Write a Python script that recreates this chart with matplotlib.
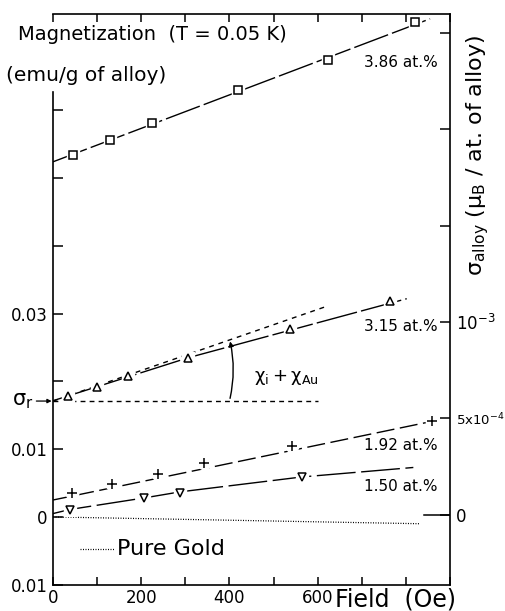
import numpy as np
import matplotlib.pyplot as plt

plt.rcParams['font.family'] = ['DejaVu Sans']
plt.rcParams['mathtext.fontset'] = 'dejavusans'

# field (Oe) and magnetization (emu/g of alloy)
h_386 = [45, 129, 224, 420, 624, 821]
m_386 = [0.0534, 0.0556, 0.0581, 0.0630, 0.0674, 0.0730]
line_386_x = [0, 855]
line_386_y = [0.0524, 0.0735]

h_315 = [33, 99, 171, 307, 537, 763]
m_315 = [0.0179, 0.0192, 0.0208, 0.0235, 0.0278, 0.0318]
line_315_x = [0, 307, 802]
line_315_y = [0.01715, 0.0235, 0.0322]

h_192 = [42, 133, 237, 342, 541, 859]
m_192 = [0.0035, 0.0049, 0.0064, 0.0080, 0.0105, 0.0141]
line_192_x = [0, 859]
line_192_y = [0.0025, 0.0141]

h_150 = [38, 206, 288, 564]
m_150 = [0.0010, 0.0028, 0.0036, 0.0059]
line_150_x = [0, 38, 206, 288, 564, 817]
line_150_y = [0.0005, 0.0011, 0.0028, 0.0037, 0.0059, 0.0073]

gold_x = [0, 832]
gold_y = [0.0, -0.0010]

sigma_r = 0.0171
tangent_x = [0, 617]
tangent_y = [0.0171, 0.0310]
sigma_r_x = [0, 601]

fig = plt.figure(figsize=(5.05, 6.11), dpi=100)
ax = fig.add_axes([0.105, 0.043, 0.786, 0.934])
ax.set_xlim(0, 900)
ax.set_ylim(-0.01, 0.0742)

lw = 1.0
# fitted lines
ax.plot(line_386_x, line_386_y, color='k', lw=lw, ls=(0, (26, 3)))
ax.plot(line_315_x, line_315_y, color='k', lw=lw, ls=(0, (30, 3)))
ax.plot(line_192_x, line_192_y, color='k', lw=lw, ls=(0, (13, 4)))
ax.plot(line_150_x, line_150_y, color='k', lw=lw, ls=(0, (28, 4)))
ax.plot(gold_x, gold_y, color='k', lw=0.9, ls=(0, (0.8, 1.2)))
ax.plot(tangent_x, tangent_y, color='k', lw=lw, ls=(0, (3.5, 3.5)))
ax.plot(sigma_r_x, [sigma_r, sigma_r], color='k', lw=lw, ls=(0, (3.5, 3)))

# markers with a white halo so the lines break around them
for hx, my, mk in [(h_386, m_386, 's'), (h_315, m_315, '^'),
                   (h_192, m_192, '+'), (h_150, m_150, 'v')]:
    ax.plot(hx, my, ls='none', marker='s' if mk != '+' else 'o', ms=9,
            mfc='white', mec='white', zorder=3)
    ax.plot(hx, my, ls='none', marker=mk, ms=6.5 if mk == '+' else 5.5,
            mfc='white', mec='k', mew=1.1, zorder=4)

# chi arc
ax.annotate('', xy=(400, 0.0263), xytext=(400, sigma_r),
            arrowprops=dict(arrowstyle='-|>', color='k', lw=1.0,
                            mutation_scale=7,
                            connectionstyle='arc3,rad=0.12'))
ax.text(530, 0.0206, r'$\mathregular{\chi_i + \chi_{Au}}$', fontsize=13,
        ha='center', va='center')

# series labels
lab_fs = 11
ax.text(872, 0.0671, '3.86 at.%', fontsize=lab_fs, ha='right', va='center')
ax.text(872, 0.0281, '3.15 at.%', fontsize=lab_fs, ha='right', va='center')
ax.text(872, 0.0106, '1.92 at.%', fontsize=lab_fs, ha='right', va='center')
ax.text(872, 0.0045, '1.50 at.%', fontsize=lab_fs, ha='right', va='center')

# pure gold legend
ax.plot([61, 140], [-0.0047, -0.0047], color='k', lw=0.9, ls=(0, (0.8, 1.2)))
ax.text(145, -0.0047, 'Pure Gold', fontsize=16, ha='left', va='center')

# sigma_r arrow outside the axes
ax.annotate(r'$\mathregular{\sigma_r}$', xy=(0, sigma_r), xytext=(-14, 0),
            textcoords='offset points', fontsize=15, ha='right',
            va='center', annotation_clip=False)
ax.annotate('', xy=(0, sigma_r), xytext=(-12, 0), textcoords='offset points',
            arrowprops=dict(arrowstyle='-|>', color='k', lw=0.9,
                            mutation_scale=6, shrinkA=0, shrinkB=1),
            annotation_clip=False)

# axes styling
for s in ax.spines.values():
    s.set_linewidth(1.2)
ax.spines['left'].set_bounds(-0.01, 0.0627)

ax.set_xticks(np.arange(0, 901, 100))
ax.set_xticklabels(['0', '', '200', '', '400', '', '600', '', '', ''])
ax.tick_params(axis='x', direction='in', length=6, width=1.1, top=True,
               labelsize=12, pad=3)
ax.set_yticks([-0.01, 0, 0.01, 0.02, 0.03, 0.04, 0.05, 0.06])
ax.set_yticklabels(['0.01', '0', '0.01', '', '0.03', '', '', ''])
ax.tick_params(axis='y', direction='in', length=7, width=1.1,
               labelsize=12, pad=4)
ax.annotate('Field  (Oe)', xy=(640, 0), xycoords=('data', 'axes fraction'),
            xytext=(0, -2), textcoords='offset points', fontsize=17,
            ha='left', va='top', annotation_clip=False)

# right axis in mu_B per atom
a, b = 0.03514, 0.0003
ax2 = ax.twinx()
lo, hi = ax.get_ylim()
ax2.set_ylim(a * (lo - b), a * (hi - b))
ax2.set_yticks([0, 5e-4, 1e-3, 1.5e-3, 2e-3, 2.5e-3])
ax2.set_yticklabels(['0', r'$5\mathregular{x}10^{-4}$', r'$10^{-3}$', '', '', ''])
ax2.tick_params(axis='y', direction='in', length=7, width=1.1,
                labelsize=12, pad=4)
ax2.get_yticklabels()[1].set_fontsize(9.5)
ax2.plot([0.935, 1.0], [0, 0], color='k', lw=1.1,
         transform=ax2.get_yaxis_transform())
for s in ax2.spines.values():
    s.set_visible(False)
ax2.set_ylabel(r'$\mathregular{\sigma_{alloy}}$ ($\mathregular{\mu_B}$ / at. of alloy)',
               fontsize=16)
ax2.yaxis.set_label_coords(1.035, 0.753)

# header text
fig.text(0.035, 0.943, 'Magnetization  (T = 0.05 K)', fontsize=14,
         ha='left', va='center')
fig.text(0.012, 0.877, '(emu/g of alloy)', fontsize=14.5,
         ha='left', va='center')

fig.savefig('out.png', dpi=100)
